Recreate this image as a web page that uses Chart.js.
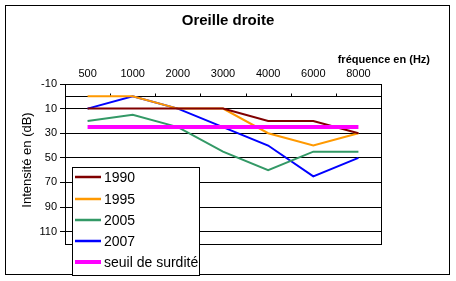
<!DOCTYPE html>
<html>
<head>
<meta charset="utf-8">
<script src="https://cdn.jsdelivr.net/npm/chart.js@4"></script>
<style>
html,body{margin:0;padding:0;background:#fff;}
#wrap{width:456px;height:281px;}
</style>
</head>
<body>
<div id="wrap"><canvas id="c" width="456" height="281"></canvas></div>
<script>
const categories = ['500','1000','2000','3000','4000','6000','8000'];
const s1990 = [10,10,10,10,20,20,30];
const s1995 = [0,0,10,10,30,40,30];
const s2005 = [20,15,25,45,60,45,45];
const s2007 = [10,0,10,25,40,65,50];
const seuil = [25,25,25,25,25,25,25];
const yTicks = [-10,10,30,50,70,90,110];
const seriesNames = ['1990','1995','2005','2007','seuil de surdité'];
const seriesColors = ['#800000','#FF9900','#339966','#0000FF','#FF00FF'];

const FONT = "'Liberation Sans', Arial, sans-serif";

const deco = {
  id:'deco',
  beforeDatasetsDraw(chart){
    const ctx = chart.ctx, a = chart.chartArea;
    const x = chart.scales.x, y = chart.scales.y;
    ctx.save();
    ctx.strokeStyle = '#000';
    ctx.lineWidth = 1;
    ctx.strokeRect(Math.round(a.left)+0.5, Math.round(a.top)+0.5, Math.round(a.right-a.left), Math.round(a.bottom-a.top));
    const y0 = Math.round(y.getPixelForValue(0))+0.5;
    ctx.beginPath();
    ctx.moveTo(a.left, y0); ctx.lineTo(a.right, y0);
    for (let i=0;i<categories.length-1;i++){
      const bx = Math.round((x.getPixelForValue(i)+x.getPixelForValue(i+1))/2)+0.5;
      ctx.moveTo(bx, y0); ctx.lineTo(bx, y0-3);
    }
    ctx.stroke();
    ctx.restore();
  },
  afterDraw(chart){
    const ctx = chart.ctx;
    ctx.save();
    ctx.strokeStyle = '#000';
    ctx.lineWidth = 1;
    ctx.strokeRect(5.5,5.5,444,269);
    ctx.fillStyle = '#000';
    ctx.textBaseline = 'middle';
    ctx.textAlign = 'center';
    ctx.font = "bold 15px " + FONT;
    ctx.fillText('Oreille droite', 228, 21);
    ctx.font = "bold 11px " + FONT;
    ctx.textAlign = 'right';
    ctx.fillText('fréquence en (Hz)', 430, 60);
    ctx.save();
    ctx.translate(27, 160);
    ctx.rotate(-Math.PI/2);
    ctx.textAlign = 'center';
    ctx.font = "13px " + FONT;
    ctx.fillText('Intensité en (dB)', 0, 0);
    ctx.restore();
    const lx = 72, ly = 167, lw = 127, lh = 108;
    ctx.fillStyle = '#fff';
    ctx.fillRect(lx, ly, lw, lh);
    ctx.strokeStyle = '#000';
    ctx.strokeRect(lx+0.5, ly+0.5, lw, lh);
    const rows = [177,199,220,241,262];
    ctx.font = "14px " + FONT;
    ctx.textAlign = 'left';
    for (let i=0;i<seriesNames.length;i++){
      ctx.strokeStyle = seriesColors[i];
      ctx.lineWidth = i===4 ? 4 : 2.5;
      ctx.beginPath();
      ctx.moveTo(75, rows[i]); ctx.lineTo(101, rows[i]);
      ctx.stroke();
      ctx.fillStyle = '#000';
      ctx.fillText(seriesNames[i], 104, rows[i]+1);
    }
    ctx.restore();
  }
};

const allSeries = [s1990, s1995, s2005, s2007, seuil];
new Chart(document.getElementById('c'), {
  type:'line',
  data:{
    labels: categories,
    datasets: allSeries.map((d,i)=>({
      label: seriesNames[i],
      data: d,
      borderColor: seriesColors[i],
      backgroundColor: seriesColors[i],
      borderWidth: i===4 ? 4 : 2,
      pointRadius: 0,
      tension: 0,
      fill: false,
      order: i===4 ? 0 : i+1
    }))
  },
  options:{
    responsive:false,
    animation:false,
    layout:{padding:{left:0, top:0, right:75, bottom:37}},
    plugins:{legend:{display:false}, title:{display:false}, tooltip:{enabled:false}},
    scales:{
      x:{
        type:'category',
        position:'top',
        offset:true,
        grid:{display:false, drawTicks:false},
        border:{display:false},
        ticks:{color:'#000', font:{family:FONT, size:11}, padding:3, maxRotation:0, autoSkip:false},
        afterFit(s){ s.height = 84; }
      },
      y:{
        reverse:true,
        min:-10, max:120,
        afterBuildTicks(s){ s.ticks = yTicks.map(v=>({value:v})); },
        grid:{color:'#000', lineWidth:1, drawTicks:true, tickLength:5, tickColor:'#000'},
        border:{display:true, color:'#000', width:1},
        ticks:{color:'#000', font:{family:FONT, size:11}, padding:3, callback:(v)=>String(v)},
        afterFit(s){ s.width = 65; }
      }
    }
  },
  plugins:[deco]
});
</script>
</body>
</html>
